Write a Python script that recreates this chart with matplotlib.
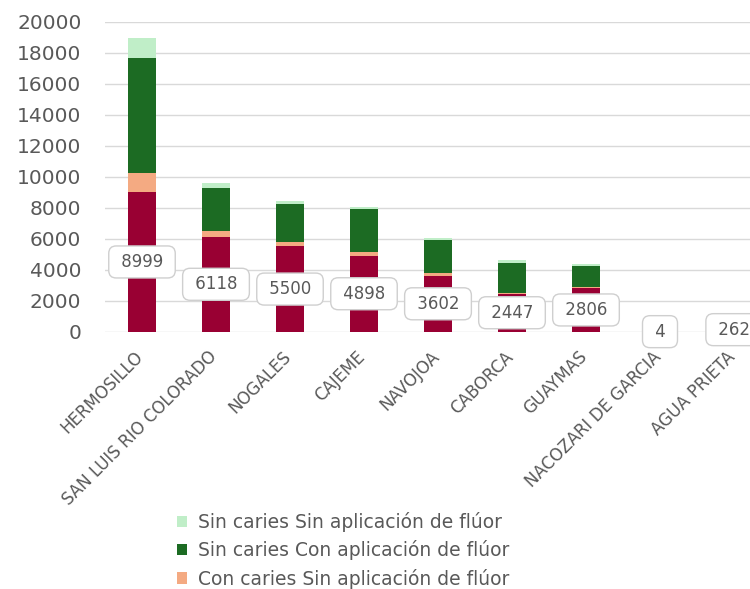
import matplotlib.pyplot as plt
import numpy as np
from matplotlib.patches import Patch
from matplotlib.transforms import ScaledTranslation

# municipios y valores
municipios = ["HERMOSILLO", "SAN LUIS RIO COLORADO", "NOGALES", "CAJEME", "NAVOJOA",
              "CABORCA", "GUAYMAS", "NACOZARI DE GARCIA", "AGUA PRIETA"]
con_caries_con_fluor = [8999, 6118, 5500, 4898, 3602, 2447, 2806, 4, 262]
con_caries_sin_fluor = [1220, 400, 260, 260, 170, 50, 60, 0, 0]
sin_caries_con_fluor = [7420, 2770, 2480, 2740, 2150, 1950, 1380, 0, 0]
sin_caries_sin_fluor = [1290, 280, 170, 160, 110, 150, 90, 0, 0]

c_crimson = '#990033'
c_peach = '#f4aa82'
c_dgreen = '#1c6b23'
c_lgreen = '#c0eec8'
gris = '#595959'

fig = plt.figure(figsize=(7.5, 5.89), dpi=100)
ax = fig.add_axes([105/750, 1-331.7/589, 666/750, 310/589])

x = np.arange(len(municipios))
w = 0.39
b1 = np.array(con_caries_con_fluor)
b2 = b1 + np.array(con_caries_sin_fluor)
b3 = b2 + np.array(sin_caries_con_fluor)

ax.bar(x, con_caries_con_fluor, w, color=c_crimson, zorder=2)
ax.bar(x, con_caries_sin_fluor, w, bottom=b1, color=c_peach, zorder=2)
ax.bar(x, sin_caries_con_fluor, w, bottom=b2, color=c_dgreen, zorder=2)
ax.bar(x, sin_caries_sin_fluor, w, bottom=b3, color=c_lgreen, zorder=2)

# etiquetas de datos en recuadros
for i, v in enumerate(con_caries_con_fluor):
    ax.text(x[i], v / 2, ' %d ' % v, ha='center', va='center', fontsize=12, color=gris, zorder=4,
            bbox=dict(boxstyle='round,pad=0.42,rounding_size=0.45', fc='white', ec='#cfcfcf', lw=1))

ax.set_xlim(-0.5, len(municipios) - 0.5)
ax.set_ylim(0, 20000)
ax.set_yticks(np.arange(0, 20001, 2000))
ax.yaxis.grid(True, color='#d9d9d9', lw=1, zorder=0)
ax.set_axisbelow(True)
for s in ax.spines.values():
    s.set_visible(False)
ax.tick_params(axis='y', length=0, pad=17, labelsize=14.5, labelcolor=gris)
ax.tick_params(axis='x', length=0, pad=11.5, labelsize=12, labelcolor=gris)
ax.set_xticks(x)
ax.set_xticklabels(municipios, rotation=45, ha='right', rotation_mode='anchor')
desplaza = ScaledTranslation(-0.08, 0, fig.dpi_scale_trans)
for lab in ax.get_xticklabels():
    lab.set_transform(lab.get_transform() + desplaza)

handles = [Patch(facecolor=c_lgreen, label='Sin caries Sin aplicación de flúor'),
           Patch(facecolor=c_dgreen, label='Sin caries Con aplicación de flúor'),
           Patch(facecolor=c_peach, label='Con caries Sin aplicación de flúor')]
fig.legend(handles=handles, loc='upper left', bbox_to_anchor=(160/750, 1-495/589),
           frameon=False, fontsize=13.5, labelcolor=gris, handlelength=0.55, handleheight=0.55,
           handletextpad=0.6, labelspacing=0.45)

fig.savefig('out.png', dpi=100)
